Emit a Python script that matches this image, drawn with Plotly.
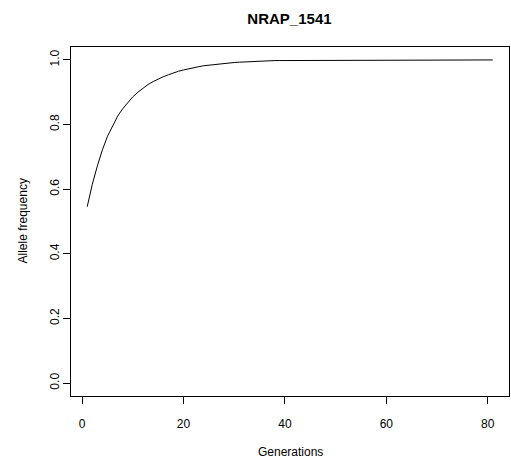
import plotly.graph_objects as go

generations = list(range(1, 82))
allele_freq = [
    0.546, 0.615, 0.672, 0.722, 0.764, 0.796, 0.826, 0.849, 0.869, 0.886,
    0.900, 0.913, 0.924, 0.933, 0.941, 0.948, 0.954, 0.960, 0.965, 0.969,
    0.973, 0.976, 0.979, 0.982, 0.984, 0.986, 0.988, 0.990, 0.991, 0.992,
    0.993, 0.994, 0.995, 0.996, 0.996, 0.997, 0.997, 0.998, 0.998, 0.998,
    0.999, 0.999, 0.999, 1.000, 1.000, 1.000, 1.000, 1.000, 1.000, 1.000,
    1.000, 1.000, 1.000, 1.000, 1.000, 1.000, 1.000, 1.000, 1.000, 1.000,
    1.000, 1.000, 1.000, 1.000, 1.000, 1.000, 1.000, 1.000, 1.000, 1.000,
    1.000, 1.000, 1.000, 1.000, 1.000, 1.000, 1.000, 1.000, 1.000, 1.000,
    1.000,
]
x_ticks = [0, 20, 40, 60, 80]
y_ticks = [0.0, 0.2, 0.4, 0.6, 0.8, 1.0]
y_tick_labels = ["0.0", "0.2", "0.4", "0.6", "0.8", "1.0"]
title_text = "NRAP_1541"
x_label = "Generations"
y_label = "Allele frequency"

FONT = "Liberation Sans, Arial, sans-serif"

fig = go.Figure()
fig.add_trace(go.Scatter(
    x=generations, y=allele_freq, mode="lines",
    line=dict(color="black", width=1), showlegend=False, hoverinfo="skip",
))

axis_common = dict(
    showline=True, linecolor="black", linewidth=1, mirror=True,
    ticks="outside", ticklen=7, tickwidth=1, tickcolor="black",
    showgrid=False, zeroline=False,
    tickfont=dict(family=FONT, size=12, color="black"),
)

fig.update_layout(
    width=511, height=463,
    margin=dict(l=71, r=2, t=47, b=67),
    paper_bgcolor="white", plot_bgcolor="white",
    font=dict(family=FONT, size=12, color="black"),
    title=dict(text=f"<b>{title_text}</b>", x=0.5665, xanchor="center",
               yref="container", y=1 - 19 / 463, yanchor="middle",
               font=dict(family=FONT, size=15, color="black")),
    xaxis=dict(range=[-2.2, 84.2], tickvals=x_ticks, ticklabelstandoff=10,
               **axis_common),
    yaxis=dict(range=[-0.04, 1.04], tickvals=y_ticks, ticktext=y_tick_labels,
               tickangle=-90, ticklabelstandoff=-1, **axis_common),
    annotations=[
        dict(text=x_label, xref="paper", yref="paper", x=0.5, y=0,
             xanchor="center", yanchor="middle", yshift=-56, showarrow=False,
             font=dict(family=FONT, size=12, color="black")),
        dict(text=y_label, xref="paper", yref="paper", x=0, y=0.5,
             xanchor="center", yanchor="middle", xshift=-49, textangle=-90,
             showarrow=False, font=dict(family=FONT, size=12, color="black")),
    ],
)

fig.write_html("out.html")
